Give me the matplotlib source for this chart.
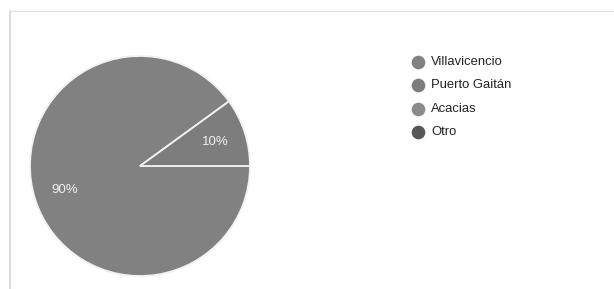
import matplotlib
matplotlib.use("Agg")
import matplotlib.pyplot as plt
from matplotlib.lines import Line2D

categories = ["Villavicencio", "Puerto Gaitán", "Acacias", "Otro"]
values = [90, 10, 0, 0]
colors = ["#818181", "#7d7d7d", "#8a8a8a", "#575757"]

plt.rcParams['font.family'] = ['Liberation Sans', 'DejaVu Sans']

W, H = 614, 289
fig = plt.figure(figsize=(W / 100, H / 100), dpi=100)
fig.patch.set_facecolor("white")

# frame lines (screenshot border)
fig.add_artist(Line2D([9.5 / W, 9.5 / W], [0, 1 - 11 / H], color="#d4d4d4", lw=1.2))
fig.add_artist(Line2D([9.5 / W, 1], [1 - 11 / H, 1 - 11 / H], color="#e2e2e2", lw=0.9))

ax = fig.add_axes([30 / W, (H - 276) / H, 220 / W, 220 / H])
vals = [v for v in values if v > 0]
cols = [c for v, c in zip(values, colors) if v > 0]
wedges, texts, autotexts = ax.pie(
    vals, colors=cols, startangle=36, counterclock=True,
    autopct=lambda p: f"{p:.0f}%", pctdistance=0.72,
    wedgeprops=dict(edgecolor="#f2f2f2", linewidth=1.3),
    textprops=dict(color="#f0f0f0", fontsize=9.5),
    radius=1.0)
ax.set_xlim(-1.0, 1.0)
ax.set_ylim(-1.0, 1.0)
ax.set_aspect("auto")
ax.axis("off")

# legend
x_marker = 418
x_text = 431
y0 = 62
dy = 23.3
for i, (cat, col) in enumerate(zip(categories, colors)):
    y = y0 + i * dy
    fig.add_artist(Line2D([x_marker / W], [1 - y / H], marker="o", markersize=8.8,
                          color=col, markeredgecolor=col, linestyle="none"))
    fig.text(x_text / W, 1 - y / H, cat, fontsize=9.4, color="#222222",
             va="center", ha="left")

fig.savefig("out.png", dpi=100, facecolor="white")
